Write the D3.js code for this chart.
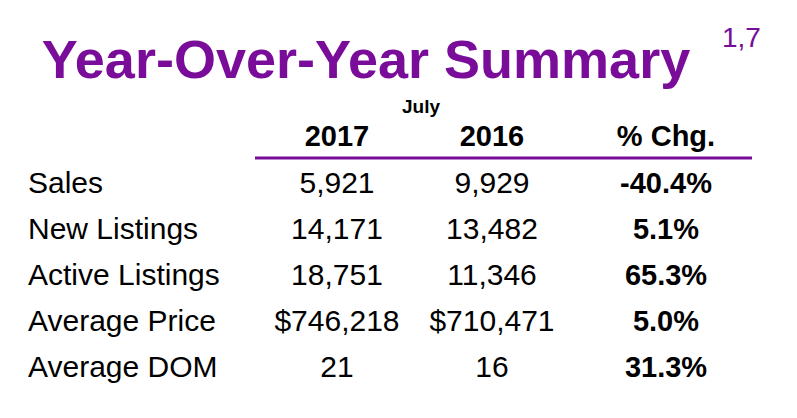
<!DOCTYPE html>
<html><head><meta charset="utf-8">
<script src="https://cdn.jsdelivr.net/npm/d3@7"></script>
<style>body{margin:0;background:#fff}</style>
</head><body>
<div id="chart"></div>
<script>
const rowLabels = ["Sales", "New Listings", "Active Listings", "Average Price", "Average DOM"];
const values2017 = ["5,921", "14,171", "18,751", "$746,218", "21"];
const values2016 = ["9,929", "13,482", "11,346", "$710,471", "16"];
const pctChange = ["-40.4%", "5.1%", "65.3%", "5.0%", "31.3%"];
const columns = ["2017", "2016", "% Chg."];

const width = 797, height = 418;
const purple = "#7a0c9a";
const font = "Liberation Sans, Arial, sans-serif";

const svg = d3.select("#chart").append("svg")
  .attr("width", width).attr("height", height)
  .style("font-family", font);

// title
svg.append("text").attr("x", 366).attr("y", 78)
  .attr("text-anchor", "middle").attr("fill", purple)
  .attr("font-size", 54).attr("font-weight", "bold")
  .text("Year-Over-Year Summary");
svg.append("text").attr("x", 722).attr("y", 47)
  .attr("fill", purple).attr("font-size", 28)
  .text("1,7");

const colX = {"2017": 337, "2016": 492, "% Chg.": 666};
const x = d3.scaleOrdinal().domain(columns).range(columns.map(c => colX[c]));
const y = d3.scaleBand().domain(rowLabels).range([160, 390]);

svg.append("text").attr("x", 421).attr("y", 113)
  .attr("text-anchor", "middle").attr("font-size", 19).attr("font-weight", "bold")
  .text("July");

svg.selectAll(".hdr").data(columns).enter().append("text")
  .attr("x", d => x(d)).attr("y", 146)
  .attr("text-anchor", "middle").attr("font-size", 29).attr("font-weight", "bold")
  .text(d => d);

svg.append("line").attr("x1", 255).attr("x2", 752).attr("y1", 158).attr("y2", 158)
  .attr("stroke", purple).attr("stroke-width", 3);

const rows = svg.selectAll(".row").data(rowLabels).enter().append("g")
  .attr("transform", d => `translate(0,${y(d) + y.bandwidth() / 2 + 10})`)
  .attr("font-size", 30);

rows.append("text").attr("x", 28).text(d => d);
rows.append("text").attr("x", x("2017")).attr("text-anchor", "middle").text((d, i) => values2017[i]);
rows.append("text").attr("x", x("2016")).attr("text-anchor", "middle").text((d, i) => values2016[i]);
rows.append("text").attr("x", x("% Chg.")).attr("text-anchor", "middle").attr("font-size", 29)
  .attr("font-weight", "bold").text((d, i) => pctChange[i]);
</script>
</body></html>
